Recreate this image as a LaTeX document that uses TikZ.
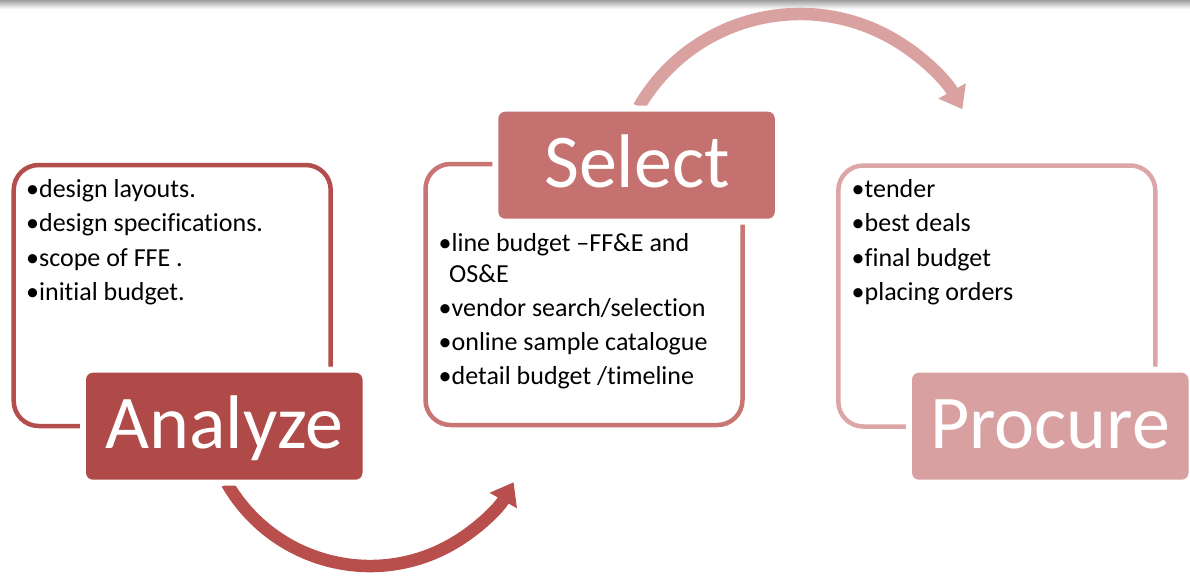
\documentclass[tikz,border=0pt]{standalone}
\usepackage{fontspec}
\setmainfont{Carlito}[Ligatures=NoCommon]
\usetikzlibrary{arrows.meta}
\definecolor{fillA}{HTML}{B04A48}
\definecolor{fillB}{HTML}{C4716F}
\definecolor{fillC}{HTML}{D8A0A0}
\definecolor{lineA}{HTML}{B34E4C}
\definecolor{lineB}{HTML}{C87573}
\definecolor{lineC}{HTML}{DBA6A5}
\definecolor{arrowA}{HTML}{B84F4D}
\definecolor{arrowB}{HTML}{D9A1A0}
\tikzset{
  framebox/.style={draw, line width=4.5, rounded corners=25, minimum width=317, minimum height=261, inner sep=0, outer sep=0, anchor=north west},
  gapbox/.style={fill=white, rounded corners=12, minimum width=288.5, minimum height=119, inner sep=0, outer sep=0, anchor=north west},
  tagbox/.style={rounded corners=7, minimum width=276.5, minimum height=107, inner sep=0, outer sep=0, anchor=north west},
  tagtext/.style={anchor=base, text=white, inner sep=0, font=\fontsize{76}{80}\selectfont},
  item/.style={anchor=base west, inner sep=0, font=\fontsize{26}{30}\selectfont},
  flow/.style={line width=12.5, -{Triangle[length=21pt,width=30pt]}}
}
\begin{document}
\begin{tikzpicture}[x=1pt,y=-1pt]
\useasboundingbox (0,0) rectangle (1190,576);
\shade[top color=black!38, bottom color=white] (0,0) rectangle (1190,9);

% frames
\node[framebox, draw=lineA] (frameA) at (13.7,165) {};
\node[framebox, draw=lineB] (frameB) at (425.5,164) {};
\node[framebox, draw=lineC] (frameC) at (838.3,165.5) {};

% arcs
\coordinate (centA) at (370,401);
\coordinate (centB) at (800,200);
\draw[flow, draw=arrowA] (centA) ++(150:165) coordinate (arcAstart) arc[start angle=150, end angle=29.5, radius=165] coordinate (arcAend);
\draw[flow, draw=arrowB] (centB) ++(210:186) coordinate (arcBstart) arc[start angle=210, end angle=330.8, radius=186] coordinate (arcBend);

% white gaps
\node[gapbox] (gapA) at (80,366.7) {};
\node[gapbox] (gapB) at (492.3,105.7) {};
\node[gapbox] (gapC) at (906,366.7) {};

% tag boxes
\node[tagbox, fill=fillA] (boxA) at (86,372.7) {};
\node[tagbox, fill=fillB] (boxB) at (498.3,111.7) {};
\node[tagbox, fill=fillC] (boxC) at (912,372.7) {};

\node[tagtext] (titleA) at (224.3,448) {Analyze};
\node[tagtext] (titleB) at (637,187) {Select};
\node[tagtext] (titleC) at (1050,448) {Procure};

% items
\node[item] (a1) at (26,197) {•design layouts.};
\node[item] (a2) at (26,231.5) {•design specifications.};
\node[item] (a3) at (26,266) {•scope of FFE .};
\node[item] (a4) at (26,300.5) {•initial budget.};

\node[item] (b1) at (438.5,251.7) {•line budget –FF\&E and};
\node[item] (b1b) at (449,282.7) {OS\&E};
\node[item] (b2) at (438.5,316.7) {•vendor search/selection};
\node[item] (b3) at (438.5,350.5) {•online sample catalogue};
\node[item] (b4) at (438.5,384.5) {•detail budget /timeline};

\node[item] (c1) at (851.5,197) {•tender};
\node[item] (c2) at (851.5,231.5) {•best deals};
\node[item] (c3) at (851.5,266) {•final budget};
\node[item] (c4) at (851.5,300.5) {•placing orders};
\end{tikzpicture}
\end{document}
